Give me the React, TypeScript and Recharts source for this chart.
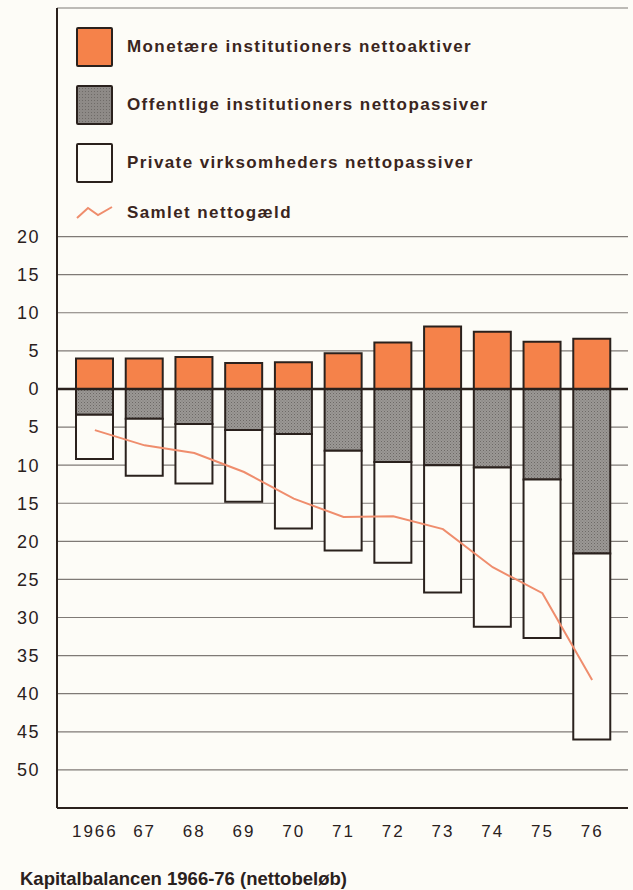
import {
  ComposedChart,
  Bar,
  Line,
  XAxis,
  YAxis,
  CartesianGrid,
  ReferenceLine,
} from "recharts";

const YEARS = ["1966", "67", "68", "69", "70", "71", "72", "73", "74", "75", "76"];
// monetære institutioners nettoaktiver (positive)
const MONETARY = [4.0, 4.0, 4.2, 3.4, 3.5, 4.7, 6.1, 8.2, 7.5, 6.2, 6.6];
// offentlige institutioners nettopassiver (below zero)
const PUBLIC = [3.4, 3.9, 4.6, 5.4, 5.9, 8.1, 9.6, 10.0, 10.3, 11.9, 21.6];
// private virksomheders nettopassiver (below the public part)
const PRIVATE = [5.8, 7.5, 7.8, 9.4, 12.4, 13.1, 13.2, 16.7, 20.9, 20.8, 24.4];
// samlet nettogæld
const NET_DEBT = [5.4, 7.4, 8.4, 10.9, 14.4, 16.8, 16.7, 18.4, 23.4, 26.8, 38.2];
const Y_TICKS = [-50, -45, -40, -35, -30, -25, -20, -15, -10, -5, 0, 5, 10, 15, 20];

const LEGEND = [
  { label: "Monetære institutioners nettoaktiver", kind: "orange" },
  { label: "Offentlige institutioners nettopassiver", kind: "grey" },
  { label: "Private virksomheders nettopassiver", kind: "white" },
  { label: "Samlet nettogæld", kind: "line" },
];
const LEGEND_TOPS = [0, 58, 116, 166];

const data = YEARS.map((year, i) => ({
  year,
  monetary: MONETARY[i],
  public: -PUBLIC[i],
  private: -PRIVATE[i],
  netDebt: -NET_DEBT[i],
}));

const INK = "#2a211d";
const ORANGE = "#f5824a";
const GREY = "#8e8a87";
const SALMON = "#ef8d6d";
const PAPER = "#fdfcf7";
const FONT = "'Liberation Sans', Arial, sans-serif";

const Swatch = ({ kind }: { kind: string }) => {
  if (kind === "line") {
    return (
      <svg width={38} height={20}>
        <polyline
          points="1,15 12,5 22,12 36,4"
          fill="none"
          stroke={SALMON}
          strokeWidth={2}
        />
      </svg>
    );
  }
  const bg = kind === "orange" ? ORANGE : kind === "grey" ? GREY : PAPER;
  return (
    <div
      style={{
        width: 33,
        height: 36,
        background: bg,
        border: `2px solid ${INK}`,
        borderRadius: 2,
        backgroundImage:
          kind === "grey"
            ? "radial-gradient(#6f6b68 0.6px, transparent 0.8px)"
            : undefined,
        backgroundSize: kind === "grey" ? "3px 3px" : undefined,
      }}
    />
  );
};

export default function App() {
  return (
    <div
      style={{
        position: "absolute",
        left: 0,
        top: 0,
        width: 633,
        height: 890,
        background: PAPER,
        fontFamily: FONT,
      }}
    >
      <ComposedChart
        width={633}
        height={890}
        data={data}
        stackOffset="sign"
        margin={{ top: 8, right: 5, left: 0, bottom: 42 }}
      >
        <defs>
          <pattern id="stipple" width={3} height={3} patternUnits="userSpaceOnUse">
            <rect width={3} height={3} fill="#9b9895" />
            <rect width={1} height={1} fill="#6d6966" />
            <rect x={1.5} y={1.5} width={1} height={1} fill="#7c7875" />
          </pattern>
        </defs>
        <CartesianGrid stroke="#7f7a76" strokeWidth={1.2} vertical={false} />
        <XAxis
          dataKey="year"
          padding={{ left: 13, right: 11 }}
          height={40}
          tickLine={false}
          tickMargin={11}
          axisLine={{ stroke: INK, strokeWidth: 2 }}
          tick={{ fontSize: 17, fill: INK, fontFamily: FONT, letterSpacing: 2 }}
          interval={0}
        />
        <XAxis
          xAxisId="top"
          dataKey="year"
          orientation="top"
          height={0}
          tick={false}
          tickLine={false}
          axisLine={{ stroke: INK, strokeWidth: 2 }}
        />
        <YAxis
          domain={[-55, 50]}
          ticks={Y_TICKS}
          width={57}
          tickLine={false}
          tickMargin={11}
          axisLine={{ stroke: INK, strokeWidth: 2 }}
          tickFormatter={(v: number) => String(Math.abs(v))}
          tick={{ fontSize: 18, fill: INK, fontFamily: FONT, letterSpacing: 1.5 }}
          interval={0}
        />
        <YAxis
          yAxisId="right"
          orientation="right"
          domain={[-55, 50]}
          width={0}
          tick={false}
          tickLine={false}
          axisLine={{ stroke: INK, strokeWidth: 2 }}
        />
        <Bar
          dataKey="monetary"
          stackId="a"
          fill={ORANGE}
          stroke={INK}
          strokeWidth={2}
          barSize={37}
          isAnimationActive={false}
        />
        <Bar
          dataKey="public"
          stackId="a"
          fill="url(#stipple)"
          stroke={INK}
          strokeWidth={2}
          barSize={37}
          isAnimationActive={false}
        />
        <Bar
          dataKey="private"
          stackId="a"
          fill={PAPER}
          stroke={INK}
          strokeWidth={2}
          barSize={37}
          isAnimationActive={false}
        />
        <ReferenceLine y={0} stroke={INK} strokeWidth={2.5} />
        <Line
          dataKey="netDebt"
          type="linear"
          stroke={SALMON}
          strokeWidth={2}
          dot={false}
          isAnimationActive={false}
        />
      </ComposedChart>

      <div style={{ position: "absolute", left: 76, top: 27 }}>
        {LEGEND.map((item, i) => (
          <div
            key={item.label}
            style={{
              position: "absolute",
              top: LEGEND_TOPS[i],
              left: 0,
              display: "flex",
              alignItems: "center",
              height: 40,
              whiteSpace: "nowrap",
            }}
          >
            <div style={{ width: 51, display: "flex", alignItems: "center" }}>
              <Swatch kind={item.kind} />
            </div>
            <span
              style={{
                fontSize: 17,
                fontWeight: "bold",
                color: "#3a2520",
                letterSpacing: 1.4,
              }}
            >
              {item.label}
            </span>
          </div>
        ))}
      </div>

      <div
        style={{
          position: "absolute",
          left: 20,
          top: 868,
          fontSize: 18.5,
          fontWeight: "bold",
          color: INK,
          whiteSpace: "nowrap",
        }}
      >
        Kapitalbalancen 1966-76 (nettobeløb)
      </div>
    </div>
  );
}
